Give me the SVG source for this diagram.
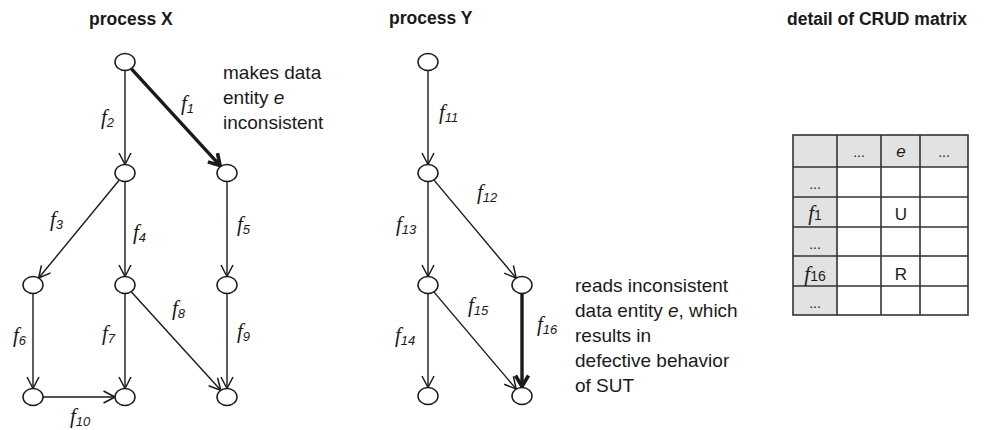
<svg xmlns="http://www.w3.org/2000/svg" width="988" height="430" viewBox="0 0 988 430">
  <style>
    .title { font-family: "Liberation Sans", Arial, sans-serif; font-weight: bold; font-size: 17.5px; fill: #1a1a1a; }
    .note { font-family: "Liberation Sans", Arial, sans-serif; font-size: 19px; fill: #1a1a1a; }
    .lbl { font-family: "Liberation Serif", "Times New Roman", serif; font-style: italic; font-size: 21px; fill: #1a1a1a; }
    .sub { font-family: "Liberation Sans", Arial, sans-serif; font-style: italic; font-size: 13px; }
    .node { fill: #fff; stroke: #1a1a1a; stroke-width: 1.5; }
    .edge { fill: none; stroke: #1a1a1a; stroke-width: 1.4; marker-end: url(#arr); }
    .edge.bold { stroke-width: 3.4; marker-end: url(#arrB); }
    .grid { fill: none; stroke: #333; stroke-width: 1.6; }
    .hdr { fill: #e2e2e2; }
    .cell { font-family: "Liberation Sans", Arial, sans-serif; font-size: 17px; fill: #1a1a1a; text-anchor: middle; }
    .dots { font-family: "Liberation Sans", Arial, sans-serif; font-size: 14px; fill: #1a1a1a; text-anchor: middle; }
    .cf { font-family: "Liberation Serif", "Times New Roman", serif; font-style: italic; font-size: 21px; }
    .cs { font-family: "Liberation Sans", Arial, sans-serif; font-size: 14px; font-style: normal; }
  </style>
  <defs>
    <marker id="arr" viewBox="-13 -7 15 14" refX="0" refY="0" markerWidth="15" markerHeight="14" markerUnits="userSpaceOnUse" orient="auto">
      <path d="M-11.5,-6 L0,0 L-11.5,6" fill="none" stroke="#1a1a1a" stroke-width="1.5" stroke-linejoin="round"/>
    </marker>
    <marker id="arrB" viewBox="-15 -9 17 18" refX="0" refY="0" markerWidth="17" markerHeight="18" markerUnits="userSpaceOnUse" orient="auto">
      <path d="M-12,-6.5 L-1,0 L-12,6.5" fill="none" stroke="#1a1a1a" stroke-width="3.6" stroke-linejoin="miter"/>
    </marker>
  </defs>

  <!-- titles -->
  <text class="title" x="89" y="25">process X</text>
  <text class="title" x="389" y="24">process Y</text>
  <text class="title" x="787" y="25">detail of CRUD matrix</text>

  <!-- connectors -->
  <g id="connectors">
    <!-- process X -->
    <line class="edge" x1="125" y1="70.5" x2="125" y2="164.5"/>
    <line class="edge bold" x1="131.2" y1="68.7" x2="220.8" y2="166.3"/>
    <line class="edge" x1="119.3" y1="180" x2="38.7" y2="278"/>
    <line class="edge" x1="125" y1="181.5" x2="125" y2="276.5"/>
    <line class="edge" x1="227" y1="181.5" x2="227" y2="276.5"/>
    <line class="edge" x1="33" y1="293.5" x2="33" y2="388.5"/>
    <line class="edge" x1="125" y1="293.5" x2="125" y2="388.5"/>
    <line class="edge" x1="131.2" y1="291.7" x2="220.8" y2="390.3"/>
    <line class="edge" x1="227" y1="293.5" x2="227" y2="388.5"/>
    <line class="edge" x1="43" y1="397" x2="115" y2="397"/>
    <!-- process Y -->
    <line class="edge" x1="428" y1="70.5" x2="428" y2="164.5"/>
    <line class="edge" x1="433.8" y1="179.9" x2="516.2" y2="278.1"/>
    <line class="edge" x1="428" y1="181.5" x2="428" y2="276.5"/>
    <line class="edge" x1="428" y1="293.5" x2="428" y2="387.5"/>
    <line class="edge" x1="433.8" y1="291.9" x2="516.2" y2="389.1"/>
    <line class="edge bold" x1="522" y1="293.5" x2="522" y2="387.5"/>
  </g>

  <!-- edge labels -->
  <g id="edge-labels">
    <text class="lbl" x="181" y="110">f<tspan class="sub" dy="3">1</tspan></text>
    <text class="lbl" x="101" y="124">f<tspan class="sub" dy="3">2</tspan></text>
    <text class="lbl" x="50" y="226">f<tspan class="sub" dy="3">3</tspan></text>
    <text class="lbl" x="133" y="239">f<tspan class="sub" dy="3">4</tspan></text>
    <text class="lbl" x="237" y="231">f<tspan class="sub" dy="3">5</tspan></text>
    <text class="lbl" x="13" y="342">f<tspan class="sub" dy="3">6</tspan></text>
    <text class="lbl" x="102" y="340">f<tspan class="sub" dy="3">7</tspan></text>
    <text class="lbl" x="172" y="315">f<tspan class="sub" dy="3">8</tspan></text>
    <text class="lbl" x="237" y="338">f<tspan class="sub" dy="3">9</tspan></text>
    <text class="lbl" x="70" y="423">f<tspan class="sub" dy="3">10</tspan></text>
    <text class="lbl" x="439" y="119">f<tspan class="sub" dy="3">11</tspan></text>
    <text class="lbl" x="477" y="199">f<tspan class="sub" dy="3">12</tspan></text>
    <text class="lbl" x="396" y="231">f<tspan class="sub" dy="3">13</tspan></text>
    <text class="lbl" x="395" y="342">f<tspan class="sub" dy="3">14</tspan></text>
    <text class="lbl" x="468" y="312">f<tspan class="sub" dy="3">15</tspan></text>
    <text class="lbl" x="537" y="331">f<tspan class="sub" dy="3">16</tspan></text>
  </g>

  <!-- process X nodes -->
  <g id="x-start"><ellipse class="node" cx="125" cy="62" rx="10" ry="8.5"/></g>
  <g id="x-a"><ellipse class="node" cx="125" cy="173" rx="10" ry="8.5"/></g>
  <g id="x-b"><ellipse class="node" cx="227" cy="173" rx="10" ry="8.5"/></g>
  <g id="x-c"><ellipse class="node" cx="33" cy="285" rx="10" ry="8.5"/></g>
  <g id="x-d"><ellipse class="node" cx="125" cy="285" rx="10" ry="8.5"/></g>
  <g id="x-e"><ellipse class="node" cx="227" cy="285" rx="10" ry="8.5"/></g>
  <g id="x-f"><ellipse class="node" cx="33" cy="397" rx="10" ry="8.5"/></g>
  <g id="x-g"><ellipse class="node" cx="125" cy="397" rx="10" ry="8.5"/></g>
  <g id="x-h"><ellipse class="node" cx="227" cy="397" rx="10" ry="8.5"/></g>

  <!-- process Y nodes -->
  <g id="y-start"><ellipse class="node" cx="428" cy="62" rx="10" ry="8.5"/></g>
  <g id="y-a"><ellipse class="node" cx="428" cy="173" rx="10" ry="8.5"/></g>
  <g id="y-b"><ellipse class="node" cx="428" cy="285" rx="10" ry="8.5"/></g>
  <g id="y-c"><ellipse class="node" cx="522" cy="285" rx="10" ry="8.5"/></g>
  <g id="y-d"><ellipse class="node" cx="428" cy="396" rx="10" ry="8.5"/></g>
  <g id="y-e"><ellipse class="node" cx="522" cy="396" rx="10" ry="8.5"/></g>

  <!-- annotations -->
  <g id="note-f1">
    <text class="note" x="223" y="79">makes data</text>
    <text class="note" x="223" y="104">entity <tspan font-style="italic">e</tspan></text>
    <text class="note" x="223" y="129">inconsistent</text>
  </g>
  <g id="note-f16">
    <text class="note" x="575" y="292">reads inconsistent</text>
    <text class="note" x="575" y="317">data entity <tspan font-style="italic">e</tspan>, which</text>
    <text class="note" x="575" y="342">results in</text>
    <text class="note" x="575" y="367">defective behavior</text>
    <text class="note" x="575" y="392">of SUT</text>
  </g>

  <!-- CRUD matrix -->
  <g id="crud-matrix">
    <rect class="hdr" x="793" y="135" width="175" height="32"/>
    <rect class="hdr" x="793" y="167" width="44" height="148"/>
    <rect class="grid" x="793" y="135" width="175" height="180"/>
    <path class="grid" d="M837,135 V315 M881,135 V315 M920,135 V315 M793,167 H968 M793,197 H968 M793,227 H968 M793,256 H968 M793,286 H968"/>
    <text class="dots" x="859" y="157">...</text>
    <text class="cell" x="901" y="157" font-style="italic" font-size="19">e</text>
    <text class="dots" x="944" y="157">...</text>
    <text class="dots" x="815" y="189">...</text>
    <text class="cell" x="815" y="220"><tspan class="cf">f</tspan><tspan class="cs">1</tspan></text>
    <text class="cell" x="901" y="220">U</text>
    <text class="dots" x="815" y="249">...</text>
    <text class="cell" x="815" y="281"><tspan class="cf">f</tspan><tspan class="cs">16</tspan></text>
    <text class="cell" x="901" y="280">R</text>
    <text class="dots" x="815" y="308">...</text>
  </g>
</svg>
